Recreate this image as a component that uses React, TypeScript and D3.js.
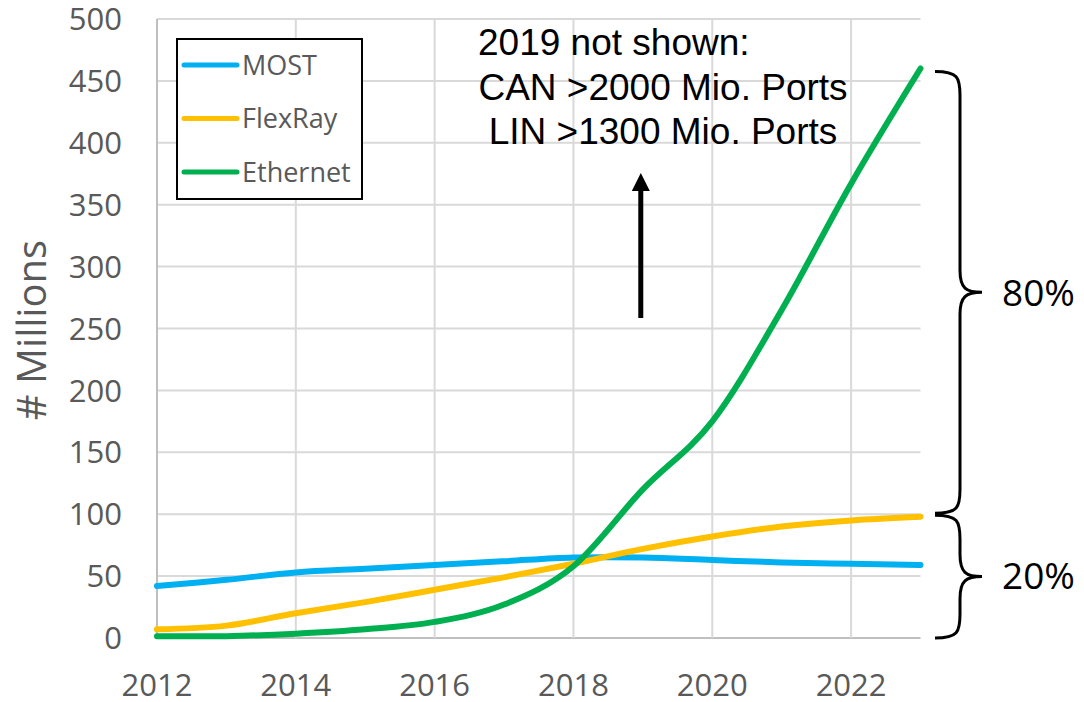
import { scaleLinear, line, curveCatmullRom, range } from "d3";

// data (millions of ports)
const years = [2012, 2013, 2014, 2015, 2016, 2017, 2018, 2019, 2020, 2021, 2022, 2023];
const most = [42, 47, 53, 56, 59, 62, 65, 65, 63, 61, 60, 59];
const flexray = [7, 10, 20, 29, 39, 49, 60, 72, 82, 90, 95, 98];
const ethernet = [1.5, 1.5, 3.5, 7, 13, 27, 58, 120, 175, 265, 367, 460];

const seriesNames = ["MOST", "FlexRay", "Ethernet"];
const seriesColors = ["#00B0F0", "#FFC000", "#00B050"];
const yTicks = range(0, 501, 50);
const xTicks = [2012, 2014, 2016, 2018, 2020, 2022];
const noteLines = ["2019 not shown:", "CAN >2000 Mio. Ports", "LIN >1300 Mio. Ports"];
const shares = ["80%", "20%"];

const W = 1084;
const H = 702;
const TICK_FONT = "'Open Sans', 'Noto Sans', sans-serif";
const NOTE_FONT = "'Liberation Sans', Arial, sans-serif";

export default function App() {
  const x = scaleLinear().domain([2012, 2023]).range([157, 920.5]);
  const y = scaleLinear().domain([0, 500]).range([638, 19]);

  const allSeries = [most, flexray, ethernet];

  // uniform catmull-rom ~ excel's "smoothed line"
  const pathFor = (vals: number[]) =>
    line<number>()
      .x((_, i) => x(years[i]))
      .y((d) => y(d))
      .curve(curveCatmullRom.alpha(0))(vals) || "";

  // braces on the right, spanning value ranges
  const top = y(ethernet[ethernet.length - 1]) + 3;
  const mid = y(100);
  const bot = y(0);
  const bx0 = 935, bx1 = 960, bx2 = 982;
  const brace = (a: number, b: number) => {
    const c = (a + b) / 2;
    return `M${bx0},${a} C${bx1 - 2},${a} ${bx1},${a + 6} ${bx1},${a + 24}
      L${bx1},${c - 22} C${bx1},${c - 4} ${bx1 + 6},${c} ${bx2},${c}
      C${bx1 + 6},${c} ${bx1},${c + 4} ${bx1},${c + 22}
      L${bx1},${b - 24} C${bx1},${b - 6} ${bx1 - 2},${b} ${bx0},${b}`;
  };

  const arrowX = x(2018.97);

  return (
    <div style={{ position: "absolute", left: 0, top: 0 }}>
      <svg width={W} height={H} style={{ display: "block", background: "#fff" }}>
        {/* grid */}
        {yTicks.map((t) => (
          <line key={"h" + t} x1={x(2012)} x2={x(2023)} y1={y(t)} y2={y(t)}
            stroke={t === 0 ? "#bfbfbf" : "#d9d9d9"} strokeWidth={2} />
        ))}
        {xTicks.slice(1).map((t) => (
          <line key={"v" + t} x1={x(t)} x2={x(t)} y1={y(500)} y2={y(0)}
            stroke="#d9d9d9" strokeWidth={2} />
        ))}
        <line x1={x(2012)} x2={x(2012)} y1={y(500)} y2={y(0)} stroke="#bfbfbf" strokeWidth={2} />

        {/* tick labels */}
        {yTicks.map((t) => (
          <text key={"yl" + t} x={122} y={y(t)} dy="0.36em" textAnchor="end"
            fontFamily={TICK_FONT} fontSize={31} fill="#595959">{t}</text>
        ))}
        {xTicks.map((t) => (
          <text key={"xl" + t} x={x(t)} y={696} textAnchor="middle"
            fontFamily={TICK_FONT} fontSize={31} fill="#595959">{t}</text>
        ))}
        <text transform={`translate(46,${330}) rotate(-90)`} textAnchor="middle"
          fontFamily={TICK_FONT} fontSize={40} fill="#595959"># Millions</text>

        {/* series */}
        {allSeries.map((s, i) => (
          <path key={seriesNames[i]} d={pathFor(s)} fill="none" stroke={seriesColors[i]}
            strokeWidth={6} strokeLinecap="round" strokeLinejoin="round" />
        ))}

        {/* legend */}
        <rect x={177} y={39} width={185} height={160} fill="#fff" stroke="#000" strokeWidth={2} />
        {seriesNames.map((n, i) => (
          <g key={"lg" + n} transform={`translate(0,${65 + i * 53.5})`}>
            <line x1={184} x2={237} y1={0} y2={0} stroke={seriesColors[i]} strokeWidth={5} strokeLinecap="round" />
            <text x={242} y={0} dy="0.36em" fontFamily={TICK_FONT} fontSize={27} fill="#595959">{n}</text>
          </g>
        ))}

        {/* note + arrow */}
        <text x={478} y={55} fontFamily={NOTE_FONT} fontSize={37} fill="#000">{noteLines[0]}</text>
        <text x={663} y={100} textAnchor="middle" fontFamily={NOTE_FONT} fontSize={37} fill="#000">{noteLines[1]}</text>
        <text x={663} y={144} textAnchor="middle" fontFamily={NOTE_FONT} fontSize={37} fill="#000">{noteLines[2]}</text>
        <line x1={arrowX} x2={arrowX} y1={318} y2={188} stroke="#000" strokeWidth={5} />
        <path d={`M${arrowX},173 L${arrowX - 9},191 L${arrowX + 9},191 Z`} fill="#000" />

        {/* braces */}
        <path d={brace(top, mid - 1)} fill="none" stroke="#000" strokeWidth={3} />
        <path d={brace(mid + 1, bot)} fill="none" stroke="#000" strokeWidth={3} />
        <text x={1002} y={(top + mid) / 2} dy="0.36em" fontFamily={TICK_FONT} fontSize={37} fill="#000">{shares[0]}</text>
        <text x={1002} y={(mid + bot) / 2} dy="0.36em" fontFamily={TICK_FONT} fontSize={37} fill="#000">{shares[1]}</text>
      </svg>
    </div>
  );
}
